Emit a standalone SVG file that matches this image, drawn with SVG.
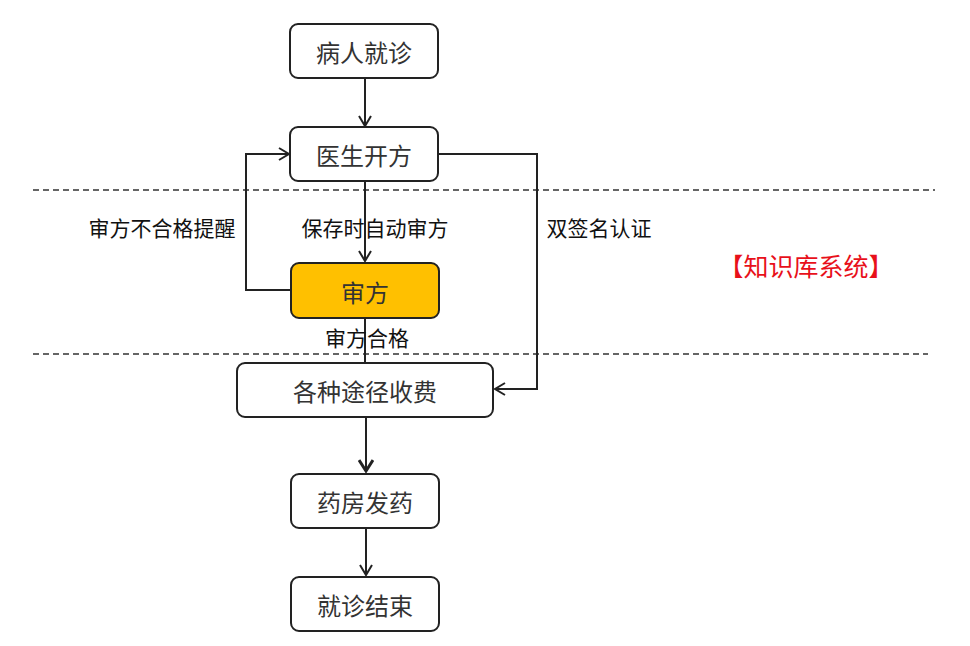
<svg xmlns="http://www.w3.org/2000/svg" width="970" height="646" viewBox="0 0 970 646">
<style>
.box{fill:#fff;stroke:#222;stroke-width:2}
.hl{fill:#FFC000;stroke:#222;stroke-width:2}
.nt{font-family:"Noto Sans CJK SC","Noto Sans",sans-serif;font-size:24px;fill:#333;text-anchor:middle;dominant-baseline:central}
.lb{font-family:"Noto Sans CJK SC","Noto Sans",sans-serif;font-size:21px;fill:#111;text-anchor:middle;dominant-baseline:central}
.ln{fill:none;stroke:#222;stroke-width:2}
.dash{stroke:#333;stroke-width:1.5;stroke-dasharray:6 4}
</style>
<defs>
<marker id="ah" markerWidth="14" markerHeight="14" refX="11" refY="7" orient="auto" markerUnits="userSpaceOnUse">
<path d="M1,1 L11,7 L1,13" fill="none" stroke="#222" stroke-width="2"/>
</marker>
<marker id="ah2" markerWidth="16" markerHeight="16" refX="12" refY="8" orient="auto" markerUnits="userSpaceOnUse">
<path d="M1,1 L12,8 L1,15" fill="none" stroke="#222" stroke-width="3"/>
</marker>
</defs>
<rect width="970" height="646" fill="#fff"/>
<line class="dash" x1="33" y1="190" x2="935" y2="190"/>
<line class="dash" x1="33" y1="354" x2="928" y2="354"/>
<g id="connectors">
<path class="ln" d="M365,78 L365,126" marker-end="url(#ah)"/>
<path class="ln" d="M365,181 L365,261" marker-end="url(#ah)"/>
<path class="ln" d="M291,290 L246,290 L246,154 L289,154" marker-end="url(#ah)"/>
<path class="ln" d="M438,154 L537,154 L537,389 L495,389" marker-end="url(#ah)"/>
<path class="ln" d="M365,318 L365,363"/>
<path class="ln" d="M366,417 L366,471" stroke-width="2.5" marker-end="url(#ah2)"/>
<path class="ln" d="M366,528 L366,575" marker-end="url(#ah)"/>
</g>
<g id="n1"><rect class="box" x="290" y="24" width="148" height="54" rx="8"/><text class="nt" x="364" y="51">病人就诊</text></g>
<g id="n2"><rect class="box" x="290" y="127" width="148" height="54" rx="8"/><text class="nt" x="364" y="154">医生开方</text></g>
<g id="n3"><rect class="hl" x="291" y="263" width="148" height="55" rx="8"/><text class="nt" x="365" y="291">审方</text></g>
<g id="n4"><rect class="box" x="237" y="363" width="256" height="54" rx="8"/><text class="nt" x="365" y="390">各种途径收费</text></g>
<g id="n5"><rect class="box" x="291" y="474" width="148" height="54" rx="8"/><text class="nt" x="365" y="501">药房发药</text></g>
<g id="n6"><rect class="box" x="291" y="577" width="148" height="54" rx="8"/><text class="nt" x="365" y="604">就诊结束</text></g>
<g id="labels">
<text class="lb" x="162" y="227">审方不合格提醒</text>
<text class="lb" x="375" y="227">保存时自动审方</text>
<text class="lb" x="599" y="227">双签名认证</text>
<text class="lb" x="367" y="337">审方合格</text>
<text x="806" y="265" font-family="Noto Sans CJK SC, sans-serif" font-size="25" fill="#E8101A" text-anchor="middle" dominant-baseline="central">【知识库系统】</text>
</g>
</svg>
